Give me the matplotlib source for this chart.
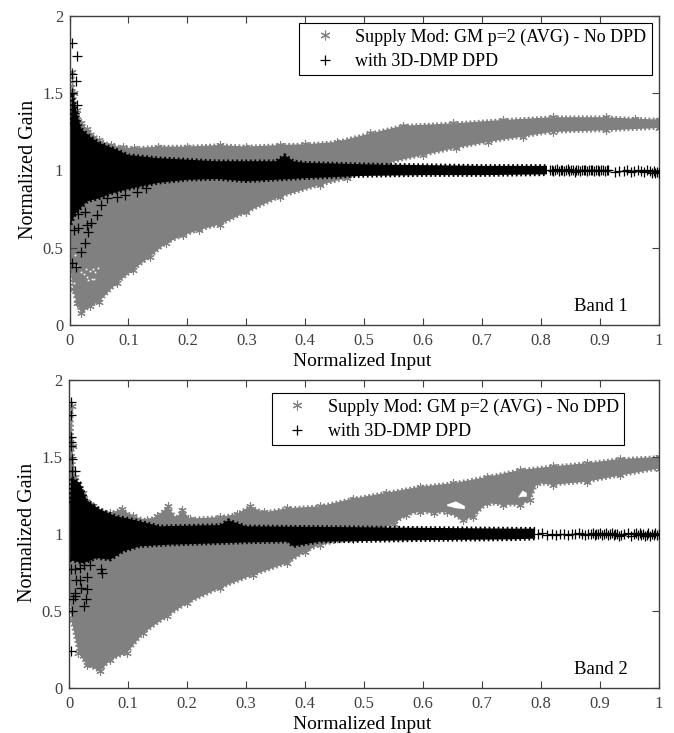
import matplotlib
matplotlib.use("Agg")
from matplotlib import pyplot as plt
from matplotlib.ticker import FormatStrFormatter

plt.rcParams['font.family'] = ['Liberation Serif', 'DejaVu Serif']

GRAY = '#808080'
DARK = '#404040'
STAR = (6, 2, 0)
label_gray = "Supply Mod: GM p=2 (AVG) - No DPD"
label_black = "with 3D-DMP DPD"
xticks = [0, 0.1, 0.2, 0.3, 0.4, 0.5, 0.6, 0.7, 0.8, 0.9, 1]
yticks = [0, 0.5, 1, 1.5, 2]

# band 1, no DPD cloud
b1_gray_up_x = [0.001, 0.005, 0.008, 0.012, 0.02, 0.03, 0.05, 0.07, 0.09, 0.11, 0.15, 0.2, 0.255, 0.3, 0.357, 0.4, 0.453, 0.51, 0.566, 0.65, 0.735, 0.82, 0.91, 0.96, 1.0]
b1_gray_up_y = [1.35, 1.64, 1.5, 1.39, 1.31, 1.27, 1.2, 1.165, 1.15, 1.145, 1.155, 1.155, 1.165, 1.155, 1.165, 1.17, 1.185, 1.24, 1.29, 1.305, 1.327, 1.345, 1.345, 1.335, 1.33]
b1_gray_lo_x = [0.001, 0.006, 0.012, 0.02, 0.034, 0.05, 0.08, 0.108, 0.136, 0.164, 0.193, 0.22, 0.255, 0.3, 0.357, 0.425, 0.47, 0.54, 0.6, 0.655, 0.71, 0.77, 0.82, 0.91, 1.0]
b1_gray_lo_y = [0.4, 0.23, 0.14, 0.075, 0.12, 0.15, 0.27, 0.356, 0.44, 0.53, 0.58, 0.615, 0.65, 0.73, 0.83, 0.906, 0.95, 1.05, 1.10, 1.145, 1.185, 1.22, 1.25, 1.26, 1.275]

# band 1, with DPD cloud
b1_black_up_x = [0.002, 0.005, 0.012, 0.02, 0.035, 0.05, 0.08, 0.1, 0.15, 0.2, 0.25, 0.3, 0.35, 0.365, 0.38, 0.4, 0.5, 0.6, 0.7, 0.81]
b1_black_up_y = [1.3, 1.5, 1.38, 1.27, 1.22, 1.18, 1.135, 1.10, 1.08, 1.07, 1.06, 1.06, 1.06, 1.1, 1.06, 1.05, 1.04, 1.035, 1.03, 1.03]
b1_black_lo_x = [0.002, 0.01, 0.02, 0.03, 0.05, 0.07, 0.1, 0.15, 0.2, 0.25, 0.3, 0.4, 0.5, 0.6, 0.7, 0.81]
b1_black_lo_y = [0.65, 0.72, 0.76, 0.8, 0.82, 0.85, 0.88, 0.92, 0.94, 0.945, 0.93, 0.95, 0.965, 0.97, 0.97, 0.975]
b1_out_x = [0.005, 0.012, 0.005, 0.011, 0.005, 0.013, 0.007, 0.005, 0.011, 0.02, 0.026, 0.032, 0.037, 0.03, 0.015, 0.007, 0.046, 0.054, 0.063, 0.026, 0.015, 0.08, 0.094, 0.114, 0.13]
b1_out_y = [1.825, 1.74, 1.626, 1.58, 1.50, 1.425, 1.37, 0.40, 0.378, 0.47, 0.53, 0.605, 0.66, 0.648, 0.626, 0.615, 0.713, 0.778, 0.82, 0.734, 0.72, 0.83, 0.842, 0.864, 0.885]
b1_tail_x = [0.815, 0.818, 0.821, 0.824, 0.827, 0.83, 0.833, 0.836, 0.839, 0.842, 0.845, 0.848, 0.851, 0.854, 0.857, 0.86, 0.863, 0.866, 0.869, 0.872, 0.875, 0.878, 0.881, 0.884, 0.887, 0.89, 0.893, 0.896, 0.899, 0.902, 0.905, 0.908, 0.911, 0.914, 0.925, 0.932, 0.94, 0.946, 0.952, 0.958, 0.964, 0.97, 0.975, 0.98, 0.984, 0.988, 0.991, 0.994, 0.997, 1.0]
b1_tail_y = [1.0, 1.005, 0.995, 1.0, 1.01, 0.995, 1.0, 1.005, 0.995, 1.0, 1.01, 0.995, 1.0, 1.005, 0.99, 1.0, 1.005, 0.995, 1.0, 1.0, 1.005, 0.995, 1.0, 1.0, 1.005, 0.995, 1.0, 1.0, 0.995, 1.0, 1.005, 0.995, 1.0, 1.0, 0.99, 0.995, 0.995, 1.0, 0.99, 0.995, 1.0, 0.995, 0.99, 1.0, 0.995, 0.985, 0.995, 0.985, 0.99, 0.985]
b1_speck_x = [0.02, 0.025, 0.028, 0.03, 0.034, 0.038, 0.04, 0.044, 0.048, 0.01, 0.012, 0.008, 0.032, 0.042]
b1_speck_y = [0.34, 0.33, 0.36, 0.31, 0.35, 0.3, 0.36, 0.34, 0.37, 0.45, 0.38, 0.27, 0.29, 0.3]

# band 2, no DPD cloud
b2_gray_up_x = [0.001, 0.0045, 0.006, 0.01, 0.024, 0.041, 0.07, 0.089, 0.109, 0.132, 0.149, 0.168, 0.182, 0.191, 0.205, 0.256, 0.284, 0.307, 0.33, 0.369, 0.425, 0.482, 0.538, 0.595, 0.651, 0.708, 0.765, 0.821, 0.878, 0.934, 1.0]
b2_gray_up_y = [1.6, 1.83, 1.57, 1.37, 1.266, 1.18, 1.136, 1.162, 1.115, 1.09, 1.115, 1.18, 1.10, 1.157, 1.10, 1.11, 1.13, 1.18, 1.14, 1.167, 1.18, 1.23, 1.268, 1.307, 1.33, 1.37, 1.416, 1.44, 1.46, 1.487, 1.5]
b2_gray_lo_x = [0.001, 0.0045, 0.016, 0.03, 0.053, 0.07, 0.098, 0.126, 0.166, 0.2, 0.256, 0.312, 0.369, 0.4, 0.425, 0.482, 0.52, 0.55, 0.572, 0.595, 0.618, 0.64, 0.668, 0.685, 0.708, 0.736, 0.765, 0.781, 0.793, 0.821, 0.878, 0.934, 1.0]
b2_gray_lo_y = [0.6, 0.44, 0.227, 0.15, 0.108, 0.184, 0.227, 0.357, 0.465, 0.552, 0.65, 0.734, 0.81, 0.885, 0.93, 0.97, 1.02, 1.065, 1.124, 1.145, 1.135, 1.145, 1.09, 1.11, 1.2, 1.19, 1.19, 1.22, 1.33, 1.32, 1.34, 1.38, 1.425]
b2_hole_x = [0.64, 0.655, 0.67, 0.761, 0.768, 0.775]
b2_hole_up = [1.195, 1.215, 1.185, 1.245, 1.285, 1.27]
b2_hole_lo = [1.185, 1.17, 1.165, 1.24, 1.245, 1.245]

# band 2, with DPD cloud
b2_black_up_x = [0.002, 0.004, 0.019, 0.03, 0.053, 0.08, 0.109, 0.154, 0.256, 0.27, 0.3, 0.425, 0.6, 0.75, 0.79]
b2_black_up_y = [1.2, 1.37, 1.33, 1.22, 1.158, 1.115, 1.093, 1.05, 1.058, 1.09, 1.05, 1.046, 1.04, 1.035, 1.035]
b2_black_lo_x = [0.002, 0.024, 0.047, 0.07, 0.092, 0.12, 0.166, 0.256, 0.3, 0.37, 0.38, 0.425, 0.6, 0.75, 0.79]
b2_black_lo_y = [0.83, 0.81, 0.844, 0.833, 0.887, 0.92, 0.93, 0.94, 0.945, 0.95, 0.92, 0.95, 0.96, 0.965, 0.97]
b2_out_x = [0.004, 0.003, 0.003, 0.004, 0.003, 0.005, 0.005, 0.01, 0.003, 0.005, 0.006, 0.01, 0.01, 0.025, 0.028, 0.03, 0.02, 0.012, 0.018, 0.03, 0.01, 0.018, 0.035, 0.025, 0.055, 0.056, 0.003]
b2_out_y = [1.86, 1.77, 1.6, 1.63, 1.57, 1.49, 1.41, 1.41, 0.24, 0.5, 0.58, 0.6, 0.62, 0.53, 0.58, 0.64, 0.65, 0.7, 0.7, 0.72, 0.77, 0.78, 0.8, 0.8, 0.77, 0.75, 0.77]
b2_tail_x = [0.795, 0.802, 0.81, 0.818, 0.825, 0.832, 0.839, 0.846, 0.852, 0.858, 0.864, 0.87, 0.875, 0.88, 0.885, 0.888, 0.891, 0.894, 0.897, 0.9, 0.903, 0.906, 0.91, 0.914, 0.917, 0.92, 0.923, 0.926, 0.929, 0.932, 0.935, 0.94, 0.947, 0.953, 0.958, 0.961, 0.964, 0.967, 0.97, 0.973, 0.976, 0.979, 0.982, 0.985, 0.988, 0.991, 0.994, 0.997, 1.0]
b2_tail_y = [1.0, 1.005, 0.995, 1.0, 0.995, 1.0, 1.0, 0.995, 1.0, 1.0, 1.005, 1.0, 0.995, 1.0, 1.0, 1.005, 0.995, 1.0, 1.0, 1.005, 0.995, 1.0, 1.005, 0.995, 1.0, 1.005, 0.995, 1.0, 1.0, 0.985, 0.995, 1.0, 1.005, 0.99, 1.0, 1.005, 0.995, 1.005, 0.995, 1.0, 0.99, 0.995, 1.005, 0.99, 1.0, 0.995, 1.005, 0.995, 1.0]


def draw_band(ax, gray_up, gray_lo, black_up, black_lo, out, tail):
    # clouds are outlined from the picture, edges roughened with dashes
    ax.fill(gray_up[0] + gray_lo[0][::-1], gray_up[1] + gray_lo[1][::-1], color=GRAY, lw=0, zorder=1)
    for e in (gray_up, gray_lo):
        ax.plot(e[0], e[1], color=GRAY, lw=2.5, ls=(0, (0.5, 0.7)), zorder=1)
        ax.plot(e[0], e[1], ls='none', marker=STAR, ms=6, mew=0.8, color=GRAY, zorder=1)
    ax.fill(black_up[0] + black_lo[0][::-1], black_up[1] + black_lo[1][::-1], color='k', lw=0, zorder=3)
    for e in (black_up, black_lo):
        ax.plot(e[0], e[1], color='k', lw=2.5, ls=(0, (0.5, 0.8)), zorder=3)
    ax.plot(out[0], out[1], ls='none', marker='+', ms=6.5, mew=0.9, color='k', zorder=3)
    ax.plot(tail[0], tail[1], ls='none', marker='+', ms=6.5, mew=0.9, color='k', zorder=3)


def style_ax(ax, band, legend_anchor):
    ax.set_xlim(0, 1)
    ax.set_ylim(0, 2)
    ax.set_xticks(xticks)
    ax.set_yticks(yticks)
    ax.xaxis.set_major_formatter(FormatStrFormatter('%g'))
    ax.yaxis.set_major_formatter(FormatStrFormatter('%g'))
    ax.tick_params(direction='in', top=True, right=True, length=5, width=0.8, labelsize=12,
                   color=DARK, labelcolor=DARK)
    ax.tick_params(axis='x', pad=6)
    ax.tick_params(axis='y', pad=4.5)
    for s in ax.spines.values():
        s.set_color(DARK)
        s.set_linewidth(1)
    ax.set_xlabel("Normalized Input", fontsize=14)
    ax.set_ylabel("Normalized Gain", fontsize=14.5)
    ax.xaxis.set_label_coords(0.497, -0.092)
    ax.yaxis.set_label_coords(-0.054, 0.505)
    ax.text(0.9016, 0.12, band, fontsize=13.5, ha='center', va='center')
    h1, = ax.plot([], [], ls='none', marker=STAR, ms=7, mew=0.8, color=GRAY)
    h2, = ax.plot([], [], ls='none', marker='+', ms=7, mew=0.9, color='k')
    leg = ax.legend([h1, h2], [label_gray, label_black], loc='upper left', bbox_to_anchor=legend_anchor,
                    fontsize=13, fancybox=False, framealpha=1, edgecolor='k', borderaxespad=0,
                    borderpad=0.3, labelspacing=0.41, handletextpad=0.58, handlelength=2.2)
    leg.get_frame().set_linewidth(0.8)
    leg.set_zorder(5)


fig = plt.figure(figsize=(6.74, 7.33), dpi=100)
ax1 = fig.add_axes([69.5 / 674, 1 - 325 / 733, 589.5 / 674, 309 / 733])
ax2 = fig.add_axes([69 / 674, 1 - 688 / 733, 590 / 674, 308 / 733])

draw_band(ax1, (b1_gray_up_x, b1_gray_up_y), (b1_gray_lo_x, b1_gray_lo_y),
          (b1_black_up_x, b1_black_up_y), (b1_black_lo_x, b1_black_lo_y),
          (b1_out_x, b1_out_y), (b1_tail_x, b1_tail_y))
ax1.plot(b1_speck_x, b1_speck_y, ls='none', marker='s', ms=1.2, mew=0, color='white', zorder=2)
style_ax(ax1, "Band 1", (0.390, 0.978))

draw_band(ax2, (b2_gray_up_x, b2_gray_up_y), (b2_gray_lo_x, b2_gray_lo_y),
          (b2_black_up_x, b2_black_up_y), (b2_black_lo_x, b2_black_lo_y),
          (b2_out_x, b2_out_y), (b2_tail_x, b2_tail_y))
ax2.fill_between(b2_hole_x[:3], b2_hole_lo[:3], b2_hole_up[:3], color='white', lw=0, zorder=2)
ax2.fill_between(b2_hole_x[3:], b2_hole_lo[3:], b2_hole_up[3:], color='white', lw=0, zorder=2)
style_ax(ax2, "Band 2", (0.344, 0.958))

fig.savefig("out.png", dpi=100)
